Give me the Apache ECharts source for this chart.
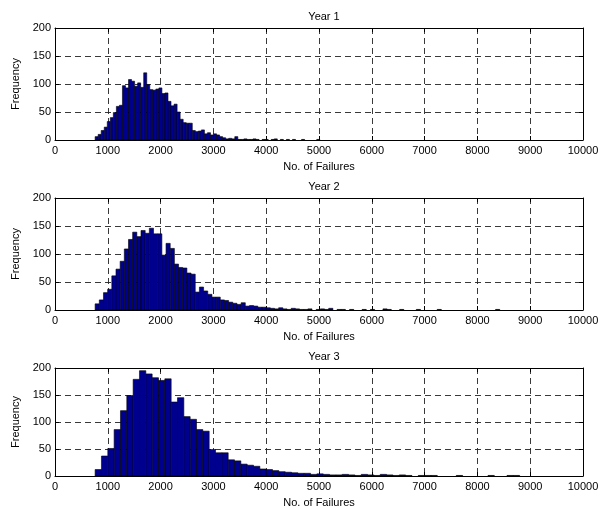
<!DOCTYPE html>
<html><head><meta charset="utf-8">
<script src="https://cdn.jsdelivr.net/npm/echarts@6/dist/echarts.min.js"></script>
<style>html,body{margin:0;padding:0;background:#fff}#c{width:603px;height:509px}</style>
</head><body><div id="c"></div>
<script>
const titles = ["Year 1", "Year 2", "Year 3"];
const xTicks = [0,1000,2000,3000,4000,5000,6000,7000,8000,9000,10000];
const yTicks = [0,50,100,150,200];
const binStart = [760, 760, 760];
const binWidth = [57.5, 79, 120];
const year1 = [6,10,17,23,33,40,49,60,62,97,93,108,105,96,102,94,120,99,90,89,
  91,93,83,84,69,61,64,50,37,31,30,30,17,15,16,18,11,13,9,11,
  9,6,4,2,3,2,6,1,1,2,1,1,2,1,0,1,1,0,1,2,
  0,1,0,1,0,1,0,0,1,0,0,0,0,1,0,0,0,0,0,0];
const year2 = [11,18,31,37,61,73,87,109,126,139,131,142,137,146,136,136,98,119,110,82,
  76,75,66,64,32,41,34,28,23,23,18,17,14,12,10,13,7,8,7,5,
  5,4,3,2,4,2,1,3,2,1,1,2,0,1,2,1,3,0,1,1,
  0,1,0,0,1,0,1,0,0,2,1,0,0,1,0,0,0,1,0,0,
  0,0,1,0,0,0,0,0,0,0,0,0,0,0,0,0,1,0,0,0];
const year3 = [12,37,51,86,121,149,179,195,189,182,177,180,137,145,110,105,86,83,49,43,
  43,30,28,22,20,18,13,12,10,8,7,6,5,5,3,4,3,2,2,3,
  2,1,3,2,1,3,2,1,2,1,0,1,1,1,0,0,0,1,0,0,
  0,0,1,0,0,1,1,0,0,0];
const counts = [year1, year2, year3];

const tops = [28, 198, 368];
const grids = [], xAxes = [], yAxes = [], series = [], titleArr = [];
const font = 'Liberation Sans, Arial, sans-serif';
const dash = {type:[6,4], color:'#222', width:0.9};
for (let g = 0; g < 3; g++) {
  grids.push({left:55, width:528, top:tops[g], height:112});
  titleArr.push({text: titles[g], left: 319, top: tops[g]-22, textAlign:'center',
    textStyle:{fontFamily:font, fontSize:11, fontWeight:'normal', color:'#000'}});
  xAxes.push({gridIndex:g, type:'value', min:0, max:10000, interval:1000, position:'bottom',
    name:'No. of Failures', nameLocation:'middle', nameGap:21,
    nameTextStyle:{fontFamily:font, fontSize:11, color:'#000'},
    axisLine:{lineStyle:{color:'#000', width:1}}, axisTick:{inside:true, length:4, lineStyle:{color:'#000'}},
    axisLabel:{fontFamily:font, fontSize:11, color:'#000', margin:5,
      formatter: v => xTicks.includes(v) ? String(v) : ''},
    splitLine:{show:true, lineStyle:dash}});
  xAxes.push({gridIndex:g, type:'value', min:0, max:10000, interval:1000, position:'top',
    axisLine:{onZero:false, lineStyle:{color:'#000', width:1}}, axisTick:{inside:true, length:4, lineStyle:{color:'#000'}},
    axisLabel:{show:false}, splitLine:{show:false}});
  yAxes.push({gridIndex:g, type:'value', min:0, max:200, interval:50, position:'left',
    name:'Frequency', nameLocation:'middle', nameGap:33, nameRotate:90,
    nameTextStyle:{fontFamily:font, fontSize:11, color:'#000'},
    axisLine:{show:true, lineStyle:{color:'#000', width:1}}, axisTick:{show:true, inside:true, length:4, lineStyle:{color:'#000'}},
    axisLabel:{fontFamily:font, fontSize:11, color:'#000', margin:4,
      formatter: v => yTicks.includes(v) ? String(v) : ''},
    splitLine:{show:true, lineStyle:dash}});
  yAxes.push({gridIndex:g, type:'value', min:0, max:200, interval:50, position:'right',
    axisLine:{show:true, onZero:false, lineStyle:{color:'#000', width:1}}, axisTick:{show:true, inside:true, length:4, lineStyle:{color:'#000'}},
    axisLabel:{show:false}, splitLine:{show:false}});
  const data = counts[g].map((c, i) => [binStart[g] + i*binWidth[g], binStart[g] + (i+1)*binWidth[g], c]);
  series.push({type:'custom', xAxisIndex:2*g, yAxisIndex:2*g, data: data, silent:true,
    encode:{x:[0,1], y:2},
    renderItem: function(params, api) {
      const c = api.value(2);
      if (c <= 0) return null;
      const p0 = api.coord([api.value(0), c]);
      const p1 = api.coord([api.value(1), 0]);
      return {type:'rect', shape:{x:p0[0], y:p0[1], width:p1[0]-p0[0], height:p1[1]-p0[1]},
        style:{fill:'#00008F', stroke:'#000', lineWidth:0.6}};
    }});
}
const chart = echarts.init(document.getElementById('c'), null, {renderer:'canvas'});
chart.setOption({animation:false, backgroundColor:'#fff', title:titleArr, grid:grids,
  xAxis:xAxes, yAxis:yAxes, series:series});
</script></body></html>
